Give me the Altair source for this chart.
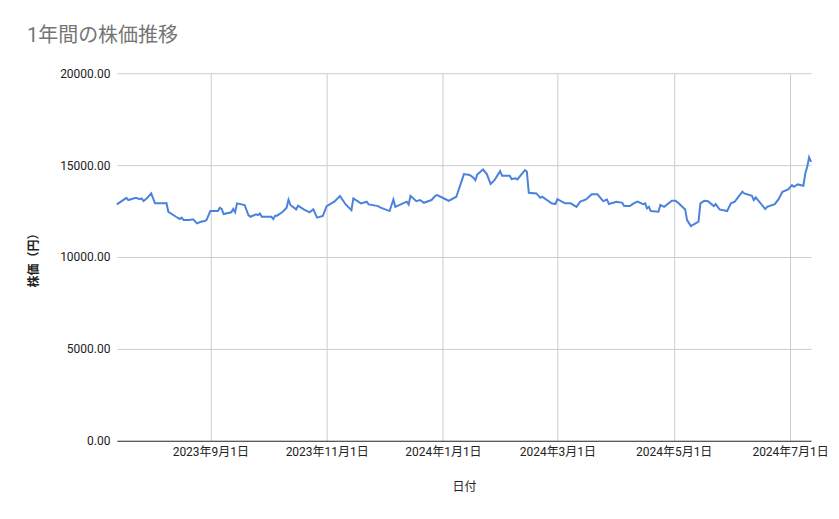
import pandas as pd
import altair as alt

# dates and closing prices
dates = [
    "2023-07-14", "2023-07-19", "2023-07-20", "2023-07-24", "2023-07-26", "2023-07-27",
    "2023-07-28", "2023-07-30", "2023-08-01", "2023-08-03", "2023-08-08", "2023-08-09",
    "2023-08-10", "2023-08-14", "2023-08-16", "2023-08-17", "2023-08-18", "2023-08-21",
    "2023-08-23", "2023-08-25", "2023-08-27", "2023-08-29", "2023-08-30", "2023-09-01",
    "2023-09-05", "2023-09-06", "2023-09-07", "2023-09-08", "2023-09-12", "2023-09-13",
    "2023-09-14", "2023-09-15", "2023-09-19", "2023-09-21", "2023-09-22", "2023-09-25",
    "2023-09-26", "2023-09-27", "2023-09-28", "2023-10-03", "2023-10-04", "2023-10-05",
    "2023-10-06", "2023-10-09", "2023-10-11", "2023-10-12", "2023-10-13", "2023-10-16",
    "2023-10-17", "2023-10-20", "2023-10-23", "2023-10-25", "2023-10-27", "2023-10-30",
    "2023-11-01", "2023-11-05", "2023-11-08", "2023-11-11", "2023-11-14", "2023-11-15",
    "2023-11-19", "2023-11-22", "2023-11-23", "2023-11-28", "2023-11-29", "2023-12-04",
    "2023-12-06", "2023-12-07", "2023-12-13", "2023-12-14", "2023-12-15", "2023-12-18",
    "2023-12-20", "2023-12-22", "2023-12-26", "2023-12-28", "2023-12-29", "2024-01-04",
    "2024-01-08", "2024-01-12", "2024-01-15", "2024-01-17", "2024-01-18", "2024-01-19",
    "2024-01-22", "2024-01-24", "2024-01-26", "2024-01-28", "2024-01-30", "2024-01-31",
    "2024-02-01", "2024-02-05", "2024-02-06", "2024-02-08", "2024-02-09", "2024-02-13",
    "2024-02-14", "2024-02-15", "2024-02-19", "2024-02-21", "2024-02-22", "2024-02-27",
    "2024-02-29", "2024-03-01", "2024-03-05", "2024-03-08", "2024-03-11", "2024-03-13",
    "2024-03-16", "2024-03-19", "2024-03-22", "2024-03-25", "2024-03-27", "2024-03-28",
    "2024-04-01", "2024-04-04", "2024-04-05", "2024-04-08", "2024-04-10", "2024-04-12",
    "2024-04-15", "2024-04-16", "2024-04-17", "2024-04-18", "2024-04-19", "2024-04-23",
    "2024-04-24", "2024-04-26", "2024-04-30", "2024-05-02", "2024-05-04", "2024-05-07",
    "2024-05-08", "2024-05-10", "2024-05-14", "2024-05-15", "2024-05-17", "2024-05-19",
    "2024-05-22", "2024-05-23", "2024-05-25", "2024-05-29", "2024-05-31", "2024-06-02",
    "2024-06-06", "2024-06-07", "2024-06-11", "2024-06-12", "2024-06-13", "2024-06-18",
    "2024-06-19", "2024-06-23", "2024-06-25", "2024-06-27", "2024-06-30", "2024-07-02",
    "2024-07-03", "2024-07-05", "2024-07-08", "2024-07-09", "2024-07-10", "2024-07-11",
    "2024-07-12",
]
prices = [
    12860, 13220, 13100, 13220, 13150, 13190,
    13040, 13220, 13460, 12920, 12920, 12930,
    12460, 12190, 12070, 12140, 12010, 12010,
    12050, 11830, 11920, 11960, 12010, 12500,
    12500, 12680, 12610, 12340, 12430, 12610,
    12430, 12920, 12830, 12280, 12190, 12320,
    12280, 12370, 12190, 12190, 12070, 12250,
    12250, 12460, 12680, 13120, 12830, 12590,
    12790, 12590, 12430, 12590, 12140, 12230,
    12770, 13010, 13320, 12860, 12550, 13190,
    12920, 13010, 12860, 12770, 12700, 12500,
    13130, 12730, 13010, 12860, 13330, 13040,
    13100, 12950, 13100, 13330, 13370, 13060,
    13280, 14510, 14460, 14310, 14180, 14490,
    14760, 14510, 13970, 14180, 14510, 14670,
    14420, 14420, 14240, 14280, 14220, 14730,
    14640, 13490, 13460, 13220, 13280, 12920,
    12880, 13150, 12920, 12920, 12730, 13010,
    13130, 13420, 13410, 13040, 13130, 12880,
    13010, 12950, 12770, 12770, 12920, 13010,
    12880, 12920, 12650, 12730, 12500, 12460,
    12830, 12730, 13060, 13060, 12880, 12590,
    12010, 11680, 11920, 12920, 13060, 13040,
    12770, 12880, 12590, 12500, 12920, 13010,
    13550, 13460, 13330, 13100, 13240, 12610,
    12730, 12880, 13150, 13550, 13680, 13910,
    13820, 13950, 13880, 14550, 14910, 15420,
    15180,
]
y_ticks = [0, 5000, 10000, 15000, 20000]
x_ticks = ["2023-09-01", "2023-11-01", "2024-01-01", "2024-03-01", "2024-05-01", "2024-07-01"]

df = pd.DataFrame({"日付": pd.to_datetime(dates), "株価": prices})

font = "Roboto, Noto Sans CJK JP"

x_tick_vals = [alt.DateTime(year=int(t[:4]), month=int(t[5:7]), date=int(t[8:])) for t in x_ticks]

chart = alt.Chart(df).mark_line(color="#4a82dc", strokeWidth=2, interpolate="linear").encode(
    x=alt.X(
        "日付:T",
        title="日付",
        scale=alt.Scale(domain=[dates[0], dates[-1]]),
        axis=alt.Axis(
            values=x_tick_vals,
            format="%Y年%-m月%-d日",
            labelFont=font, labelFontSize=12, labelColor="#222222",
            titleFont=font, titleFontSize=12, titleColor="#222222", titleFontWeight="normal",
            titlePadding=24,
            ticks=False, labelPadding=6,
            domainColor="#333333", domainWidth=1,
            grid=True, gridColor="#cccccc",
        ),
    ),
    y=alt.Y(
        "株価:Q",
        title="株価（円）",
        scale=alt.Scale(domain=[0, 20000]),
        axis=alt.Axis(
            values=y_ticks,
            format=".2f",
            labelFont=font, labelFontSize=12, labelColor="#222222",
            titleFont=font, titleFontSize=12, titleColor="#222222", titleFontWeight="bold",
            titlePadding=19,
            ticks=False, labelPadding=7, domain=False,
            grid=True, gridColor="#cccccc",
        ),
    ),
).properties(
    width=695,
    height=368,
    autosize="none",
    padding={"left": 109, "top": 65, "right": 20, "bottom": 70},
    title=alt.TitleParams(
        "1年間の株価推移",
        anchor="start", frame="group", dx=-90, offset=28, dy=23,
        baseline="alphabetic",
        font=font, fontSize=20, fontWeight="normal", color="#757575",
    ),
).configure_view(stroke=None)

chart.save("out.html", embed_options={"renderer": "svg", "actions": False})
